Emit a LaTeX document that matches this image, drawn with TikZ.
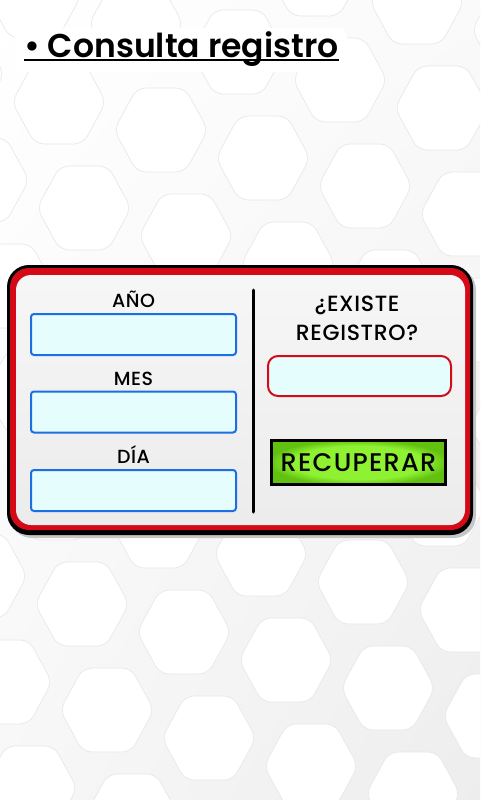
\documentclass[tikz,border=0pt]{standalone}
\usepackage{fontspec}
\setmainfont{Poppins}[UprightFont=* Medium, BoldFont=* SemiBold]
\usetikzlibrary{shadings}
\definecolor{fieldblue}{HTML}{1C6FE3}
\definecolor{fieldfill}{HTML}{E6FDFD}
\definecolor{panelred}{HTML}{D40A17}
\definecolor{btngreen}{HTML}{8EF232}
\definecolor{btndark}{HTML}{62C010}
\pgfdeclareradialshading{btnglow}{\pgfpoint{0bp}{0bp}}{color(0bp)=(btngreen); color(19bp)=(btngreen); color(26bp)=(btndark); color(50bp)=(btndark)}

\begin{document}
\begin{tikzpicture}[x=1pt,y=-1pt,
  hexcell/.style={fill=white, draw=gray!18, line width=0.7pt, rounded corners=9pt},
  fieldbox/.style={draw=fieldblue, fill=fieldfill, line width=2pt, rounded corners=3pt,
    minimum width=205pt, minimum height=41pt, inner sep=0pt},
  lbl/.style={font=\fontsize{19}{21}\selectfont\addfontfeatures{LetterSpace=3}, inner sep=0pt, anchor=base},
  biglbl/.style={lbl, font=\fontsize{22}{24}\selectfont\addfontfeatures{LetterSpace=3}}]
\useasboundingbox (0,0) rectangle (480,800);
\shade[upper left=white, upper right=gray!4, lower left=gray!6, lower right=gray!14] (0,0) rectangle (480,800);
% hexagon background
\begin{scope}
\clip (0,0) rectangle (480,800);
\foreach \i in {-3,...,7} \foreach \j in {-9,...,4} {
  \pgfmathsetmacro\cx{82+102*\i+25*\j}
  \pgfmathsetmacro\cy{604+28*\i+106*\j}
  \draw[hexcell, shift={(\cx,\cy)}] (-47,0) -- (-24,-42) -- (24,-42) -- (47,0) -- (24,42) -- (-24,42) -- cycle;
}
\end{scope}
% title
\fill[white, rounded corners=8] (15,28) rectangle (347,72);
\node[anchor=base west, inner sep=0pt, font=\fontsize{33}{35}\selectfont\bfseries] (title) at (24,57) {• Consulta registro};
\draw[line width=1.8pt] ([yshift=-3pt]title.base west) -- ([yshift=-3pt]title.base east);
% panel
\fill[gray!45, rounded corners=22] (10,268) rectangle (476,538);
\fill[black, rounded corners=22] (7,265) rectangle (473,535);
\fill[panelred, rounded corners=19] (10,268) rectangle (470,530);
\shade[top color=gray!7, bottom color=gray!15, rounded corners=15] (16,275) rectangle (465,525);
\draw[line width=3pt, line cap=round] (253,290) -- (253,512);
% left fields
\node[fieldbox] (anio) at (133.5,334.5) {};
\node[fieldbox] (mes) at (133.5,412) {};
\node[fieldbox] (dia) at (133.5,490.5) {};
\node[lbl] (lblanio) at (133.5,307) {AÑO};
\node[lbl] (lblmes) at (133.5,385) {MES};
\node[lbl] (lbldia) at (133.5,463) {DÍA};
% right side
\node[biglbl] (lblexiste) at (357,311) {¿EXISTE};
\node[biglbl] (lblregistro) at (357,340) {REGISTRO?};
\node[fieldbox, draw=panelred, rounded corners=10pt, minimum width=183pt, minimum height=40pt] (existe) at (359.5,376) {};
\node[draw=black, line width=3pt, shading=btnglow,
  minimum width=174pt, minimum height=44pt, inner sep=0pt,
  font=\fontsize{25.5}{27}\selectfont\addfontfeatures{LetterSpace=5}] (recuperar) at (358.5,462.5) {RECUPERAR};
\end{tikzpicture}
\end{document}
